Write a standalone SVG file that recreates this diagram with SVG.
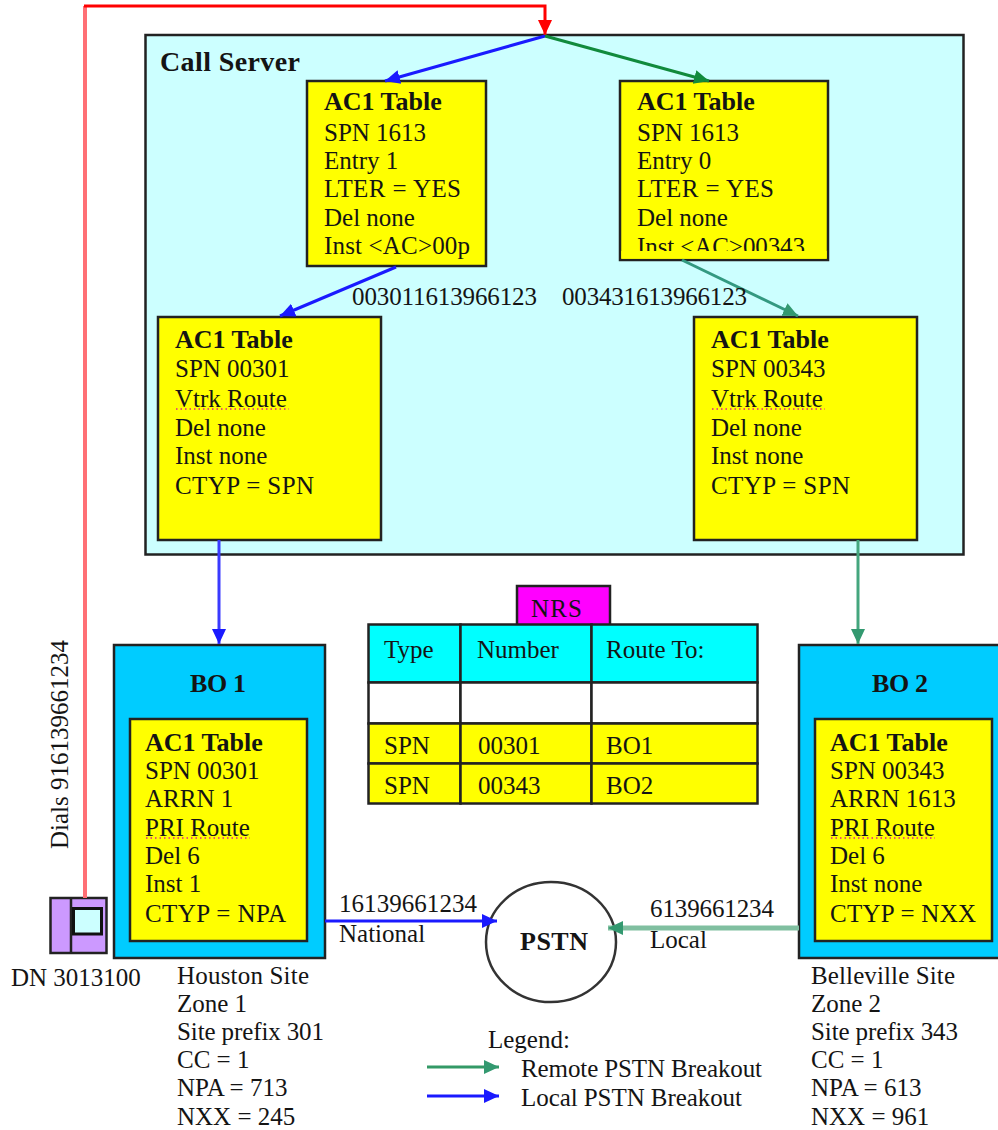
<svg xmlns="http://www.w3.org/2000/svg" width="998" height="1130" viewBox="0 0 998 1130">
<style>
text{font-family:"Liberation Serif","Times New Roman",serif;font-size:25px;fill:#141414}
.b{font-weight:bold;font-size:26px}
.box{stroke:#222;stroke-width:2.5}
.y{fill:#ffff00}
.c{fill:#00ccff}
.n{fill:#00ffff}
.sq{fill:none;stroke:#e0208c;stroke-width:1.500;stroke-dasharray:1.500 3}
</style>
<defs>
<marker id="ar" markerUnits="userSpaceOnUse" markerWidth="17" markerHeight="16" refX="15" refY="8" orient="auto"><path d="M0 1L15 8L0 15z" fill="#f00"/></marker>
<marker id="ab" markerUnits="userSpaceOnUse" markerWidth="17" markerHeight="16" refX="15" refY="8" orient="auto"><path d="M0 1L15 8L0 15z" fill="#1a1aff"/></marker>
<marker id="ag" markerUnits="userSpaceOnUse" markerWidth="17" markerHeight="16" refX="15" refY="8" orient="auto"><path d="M0 1L15 8L0 15z" fill="#118a3c"/></marker>
<marker id="at" markerUnits="userSpaceOnUse" markerWidth="17" markerHeight="16" refX="15" refY="8" orient="auto"><path d="M0 1L15 8L0 15z" fill="#339970"/></marker>
</defs>
<g id="call-server"><rect class="box" x="145.500" y="35" width="818" height="519.500" fill="#ccffff"/><text class="b" x="160" y="71" style="font-size:28px" textLength="140">Call Server</text></g>
<g id="table-1"><rect class="box y" x="307" y="81" width="179" height="185"/><text x="324" y="110" class="b">AC1 Table</text><text x="324" y="141">SPN 1613</text><text x="324" y="169">Entry 1</text><text x="324" y="197" textLength="137">LTER = YES</text><text x="324" y="226">Del none</text><text x="324" y="254" textLength="146">Inst &lt;AC&gt;00p</text></g>
<g id="table-2"><rect class="box y" x="620" y="81" width="208" height="179"/><text x="637" y="110" class="b">AC1 Table</text><text x="637" y="141">SPN 1613</text><text x="637" y="169">Entry 0</text><text x="637" y="197" textLength="137">LTER = YES</text><text x="637" y="226">Del none</text><text x="637" y="255" textLength="168">Inst &lt;AC&gt;00343</text><rect x="621.300" y="251" width="205.400" height="7.700" fill="#ff0"/></g>
<g id="table-3"><rect class="box y" x="158" y="317" width="223" height="223"/><text x="175" y="348" class="b">AC1 Table</text><text x="175" y="377">SPN 00301</text><text x="175" y="407">Vtrk Route</text><text x="175" y="436">Del none</text><text x="175" y="464">Inst none</text><text x="175" y="494" textLength="139">CTYP = SPN</text><path class="sq" d="M176 409H289"/></g>
<g id="table-4"><rect class="box y" x="694" y="317" width="223" height="223"/><text x="711" y="348" class="b">AC1 Table</text><text x="711" y="377">SPN 00343</text><text x="711" y="407">Vtrk Route</text><text x="711" y="436">Del none</text><text x="711" y="464">Inst none</text><text x="711" y="494" textLength="139">CTYP = SPN</text><path class="sq" d="M712 409H825"/></g>
<g id="bo1"><rect class="box c" x="114" y="645" width="211" height="313"/><text x="190" y="692" class="b" textLength="56">BO 1</text><rect class="box y" x="130" y="719" width="177" height="222"/><text x="145" y="751" class="b">AC1 Table</text><text x="145" y="779">SPN 00301</text><text x="145" y="807">ARRN 1</text><text x="145" y="836">PRI Route</text><text x="145" y="864">Del 6</text><text x="145" y="892">Inst 1</text><text x="145" y="922" textLength="141">CTYP = NPA</text><path class="sq" d="M146 838H250"/></g>
<g id="bo2"><rect class="box c" x="799" y="645" width="202" height="313"/><text x="872" y="692" class="b" textLength="56">BO 2</text><rect class="box y" x="815" y="719" width="177" height="222"/><text x="830" y="751" class="b">AC1 Table</text><text x="830" y="779">SPN 00343</text><text x="830" y="807">ARRN 1613</text><text x="830" y="836">PRI Route</text><text x="830" y="864">Del 6</text><text x="830" y="892">Inst none</text><text x="830" y="922" textLength="146">CTYP = NXX</text><path class="sq" d="M831 838H935"/></g>
<g id="nrs"><rect class="box" x="517" y="586" width="93" height="40" fill="#ff00ff"/><text x="531" y="617" textLength="51">NRS</text>
<rect class="box n" x="368.500" y="624.500" width="92" height="58"/><rect class="box n" x="460.500" y="624.500" width="131" height="58"/><rect class="box n" x="591.500" y="624.500" width="166" height="58"/>
<rect class="box" fill="#fff" x="368.500" y="682.500" width="92" height="41"/><rect class="box" fill="#fff" x="460.500" y="682.500" width="131" height="41"/><rect class="box" fill="#fff" x="591.500" y="682.500" width="166" height="41"/>
<rect class="box y" x="368.500" y="723.500" width="92" height="40"/><rect class="box y" x="460.500" y="723.500" width="131" height="40"/><rect class="box y" x="591.500" y="723.500" width="166" height="40"/>
<rect class="box y" x="368.500" y="763.500" width="92" height="40"/><rect class="box y" x="460.500" y="763.500" width="131" height="40"/><rect class="box y" x="591.500" y="763.500" width="166" height="40"/>
<text x="384" y="658">Type</text><text x="477" y="658">Number</text><text x="606" y="658">Route To:</text>
<text x="384" y="754">SPN</text><text x="478" y="754">00301</text><text x="606" y="754">BO1</text>
<text x="384" y="794">SPN</text><text x="478" y="794">00343</text><text x="606" y="794">BO2</text></g>
<g id="phone"><rect class="box" x="50.500" y="898" width="56" height="55" fill="#cc99ff"/><path d="M71 898V953" stroke="#222" stroke-width="2.500"/><rect x="73.500" y="908.500" width="28" height="25.500" fill="#ccffff" stroke="#111" stroke-width="3"/><text x="11" y="986">DN 3013100</text></g>
<g id="pstn"><ellipse cx="551" cy="942" rx="65" ry="60" fill="#fff" stroke="#333" stroke-width="2.500"/><text x="520" y="950" class="b" textLength="68">PSTN</text></g>
<g id="connectors" fill="none" stroke-width="3">
<path d="M85 898V6" stroke="#ff6f75" stroke-width="4"/>
<path d="M84 6H545V35" stroke="#f00" marker-end="url(#ar)"/>
<path d="M545 36L385 81" stroke="#1a1aff" marker-end="url(#ab)"/>
<path d="M545 36L709 81" stroke="#118a3c" marker-end="url(#ag)"/>
<path d="M396 267L280 316" stroke="#1a1aff" marker-end="url(#ab)"/>
<path d="M682 260L798 316" stroke="#339980" marker-end="url(#at)"/>
<path d="M219 540V644" stroke="#3a3aff" marker-end="url(#ab)"/>
<path d="M858 540V644" stroke="#44a67e" marker-end="url(#at)"/>
<path d="M325 921H497" stroke="#1a1aff" marker-end="url(#ab)"/>
<path d="M799 928H608" stroke="#80bfa0" stroke-width="5" marker-end="url(#at)"/>
<path d="M427 1067H499" stroke="#339966" marker-end="url(#at)"/>
<path d="M427 1096H499" stroke="#1a1aff" marker-end="url(#ab)"/>
</g>
<g id="labels">
<text x="352" y="305" textLength="185">003011613966123</text><text x="562" y="305" textLength="185">003431613966123</text>
<text transform="translate(68 849) rotate(-90)" textLength="209">Dials 916139661234</text>
<text x="339" y="912" textLength="138">16139661234</text><text x="339" y="942">National</text>
<text x="650" y="917" textLength="124">6139661234</text><text x="650" y="948">Local</text>
<text x="177" y="984" textLength="132">Houston Site</text><text x="177" y="1012">Zone 1</text><text x="177" y="1040" textLength="147">Site prefix 301</text><text x="177" y="1068">CC = 1</text><text x="177" y="1096">NPA = 713</text><text x="177" y="1125">NXX = 245</text>
<text x="811" y="984" textLength="144">Belleville Site</text><text x="811" y="1012">Zone 2</text><text x="811" y="1040" textLength="147">Site prefix 343</text><text x="811" y="1068">CC = 1</text><text x="811" y="1096">NPA = 613</text><text x="811" y="1125">NXX = 961</text>
<text x="488" y="1048">Legend:</text><text x="521" y="1077" textLength="241">Remote PSTN Breakout</text><text x="521" y="1106" textLength="221">Local PSTN Breakout</text>
</g>
</svg>
